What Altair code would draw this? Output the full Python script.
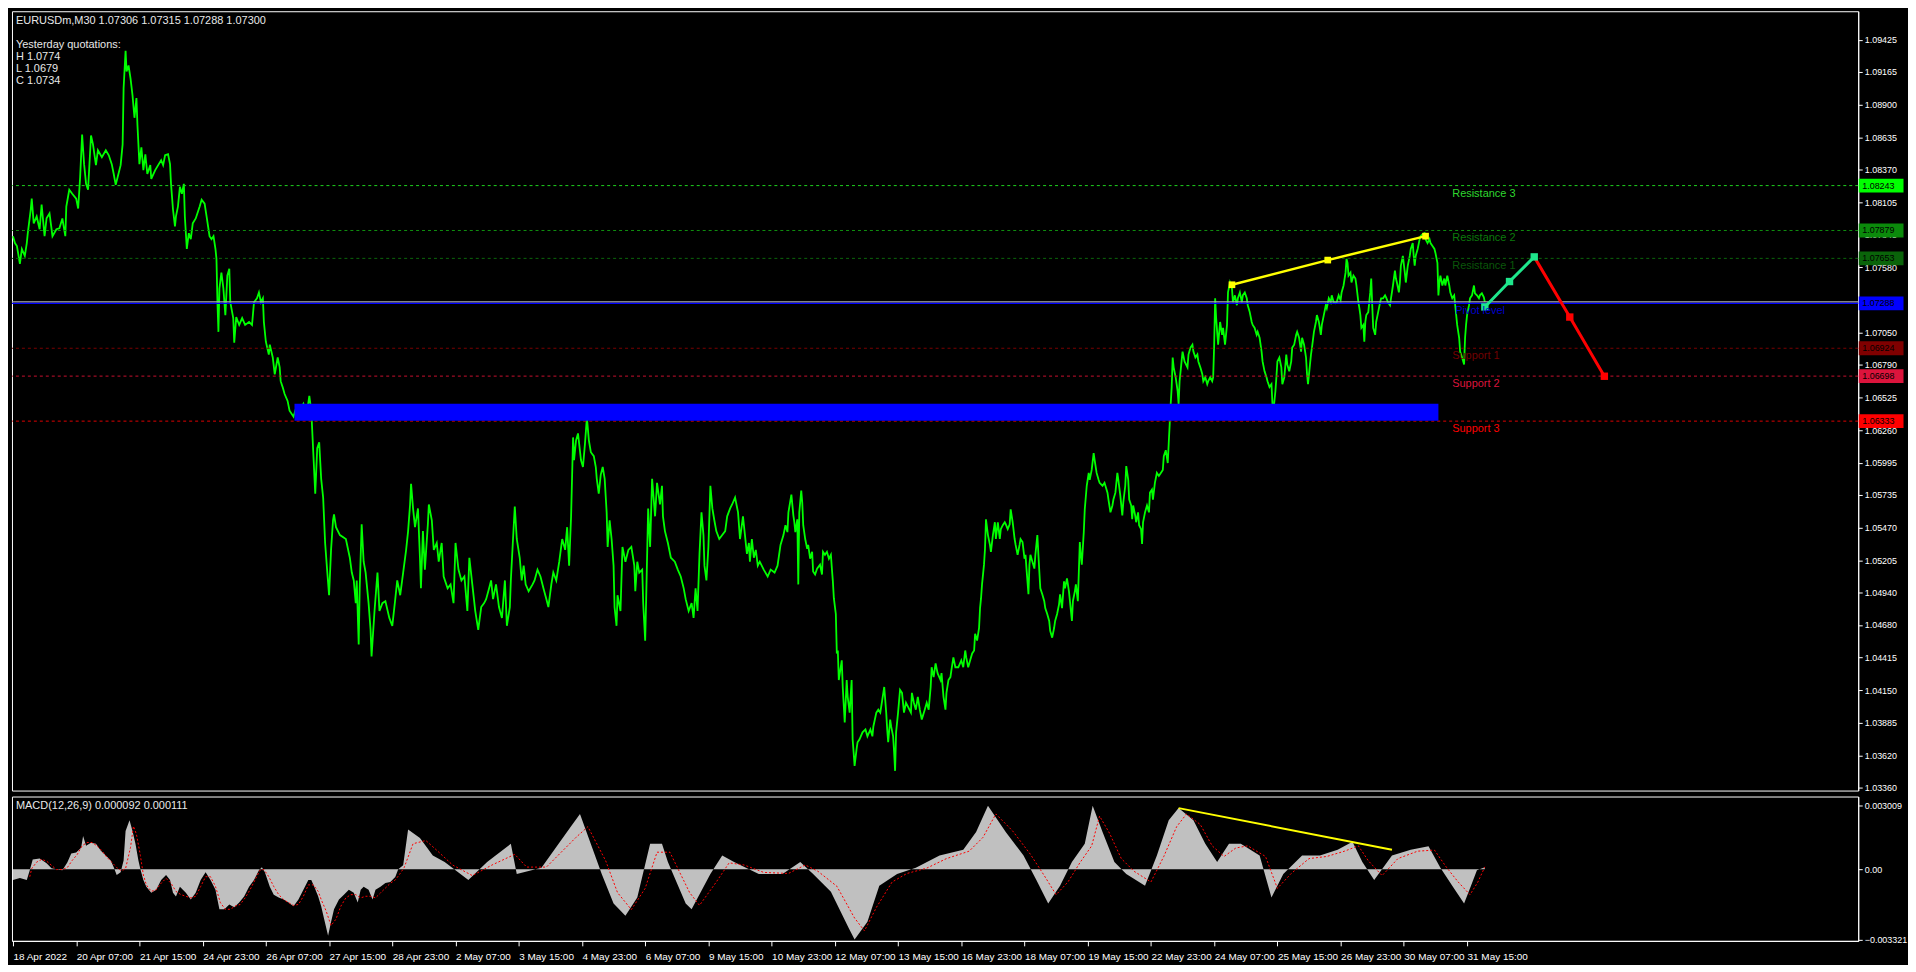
import altair as alt
import pandas as pd

# ---------------- data ----------------
price_bars = [0,2,4,7,9,12,14,15,18,19,21,24,27,29,32,34,37,40,44,47,50,53,54,57,60,64,66,68,70,72,74,76,79,81,84,86,90,94,97,100,102,104,106,109,111,112,114,115,117,119,121,123,125,126,128,130,132,134,136,139,140,144,147,150,152,154,157,159,160,162,164,165,167,169,171,173,174,176,178,180,182,185,189,191,194,196,199,201,203,205,206,207,208,209,211,213,215,217,219,220,223,224,226,229,232,235,239,242,244,247,249,251,253,254,256,259,260,263,265,268,270,271,273,275,278,280,284,287,290,294,297,300,302,
304,306,308,310,312,314,316,318,320,322,324,325,327,331,337,341,343,345,347,348,350,351,353,355,357,360,362,363,366,369,371,374,377,381,384,387,389,392,395,398,400,402,403,405,407,410,412,413,415,417,420,421,424,426,429,431,434,436,440,443,446,448,451,454,457,460,462,465,468,471,474,477,479,482,484,486,489,492,495,498,500,503,504,506,508,510,513,515,517,519,522,526,528,531,534,537,540,542,545,547,550,553,556,559,561,563,565,567,568,570,572,575,577,579,581,583,585,588,590,591,593,595,597,599,601,602,604,606,608,609,611,612,615,617,620,623,626,629,630,632,634,637,638,640,641,643,645,647,650,652,655,657,658,660,663,666,670,673,676,679,681,684,687,689,691,693,695,697,699,700,702,704,706,708,710,712,715,718,721,723,726,728,731,734,736,739,741,743,745,746,748,750,752,754,756,760,764,767,771,774,
777,780,782,784,785,788,790,791,792,794,795,796,798,799,800,802,804,805,807,809,810,812,814,817,819,820,822,824,826,828,829,830,831,833,834,835,836,839,840,842,844,845,847,849,850,851,852,854,855,857,860,863,865,868,870,871,874,876,878,880,882,884,885,886,888,889,891,892,893,894,896,898,900,902,904,906,909,910,912,914,916,918,920,923,925,927,929,930,932,934,936,939,940,942,944,945,947,949,950,952,954,957,960,962,964,965,967,969,971,973,974,976,978,979,980,981,983,984,985,987,989,990,992,994,995,997,999,1000,1002,1004,1005,1007,1009,1010,1012,1014,1015,1017,1019,1020,1022,1024,1025,1026,1028,1029,1030,1032,1034,1035,1037,1039,1040,1042,1044,1045,1047,1049,1050,1052,1054,1055,1057,1059,1060,1062,1064,1065,1067,1069,1070,1072,1073,1075,1076,1078,1080,1081,1082,1084,1085,1087,1089,1090,1092,1094,1095,1097,1099,1100,1103,1105,1108,1109,1111,1113,1114,1116,1118,1119,1121,1123,1124,1126,1127,1129,1130,1132,1133,1134,1136,1137,1139,1140,1142,1143,1144,1146,1148,1150,1151,1153,1154,1156,1158,1160,1162,1164,1165,1167,1169,1170,1171,
1172,1173,1174,1175,1177,1179,1180,1181,1183,1184,1186,1189,1190,1192,1194,1195,1197,1199,1200,1202,1204,1205,1207,1209,1210,1212,1214,1215,1216,1217,1218,1219,1220,1222,1224,1225,1227,1229,1230,1232,1234,1235,1237,1239,1240,1242,1244,1245,1247,1249,1250,1252,1254,1255,1257,1259,1260,1262,1264,1265,1267,1269,1270,1272,1274,1275,1276,1278,1279,1280,1282,1284,1285,1287,1289,1290,1292,1294,1295,1297,1299,1300,1302,1304,1305,1307,1309,1310,1311,1313,1314,1315,1317,1319,1320,1322,1324,1325,1327,1329,1330,1332,1334,1335,1337,1339,1340,1342,1344,1345,1347,1349,1350,1351,1352,1354,1355,1357,1359,1360,1362,1363,1364,1365,1367,1368,1369,1370,1372,1374,1375,1376,1377,1379,1380,1382,1384,1385,1387,1389,1390,1392,1394,1395,1397,1399,1400,1401,1403,1404,1405,1407,1409,1410,1412,1414,1415,1417,1418,1419,1420,1422,1424,1425,1427,1429,1430,1432,1434,1435,1437,1439,1440,1442,1443,1444,1445,1447,1449,1450,1452,1454,1455,1457,1459,1460,1462,1464,1465,1467,1469,1470,1471,1472,1474,1475,1477,1479,1480,1482,1484,1485,1487,1489,1490]

price_close = [1.07833,1.07777,1.07753,1.07609,1.07729,1.07673,1.07777,1.07857,1.08049,1.08137,1.07937,1.07993,1.07889,1.08089,1.07833,1.07977,1.08017,1.07833,1.07889,1.07897,1.07977,1.07833,1.08073,1.08209,1.08177,1.08137,1.08057,1.08313,1.08657,1.08417,1.08257,1.08209,1.08649,1.08577,1.08409,1.08529,1.08473,1.08529,1.08489,1.08417,1.08337,1.08249,1.08313,1.08409,1.08577,1.09033,1.09337,1.09169,1.09217,1.09113,1.08977,1.08793,1.08953,1.08737,1.08417,1.08553,1.08369,1.08497,1.08337,1.08409,1.08297,1.08369,1.08409,1.08449,1.08409,1.08489,1.08497,1.08417,1.08257,1.08049,1.07913,1.07993,1.08073,1.08233,1.08177,1.08257,1.07993,1.07729,1.07857,1.07809,1.07937,1.07977,1.08073,1.08129,1.08097,1.07993,1.07833,1.07809,1.07833,1.07729,1.07649,1.07297,1.07057,1.07409,1.07537,1.07409,1.07193,1.07513,1.07569,1.07297,1.07169,1.06969,1.07177,1.07113,1.07169,1.07113,1.07137,1.07113,1.07297,1.07329,1.07377,1.07297,1.07329,1.07137,1.06977,1.06873,1.06953,1.06849,1.06713,1.06849,1.06769,1.06657,1.06609,1.06553,1.06497,1.06417,1.06369,1.06449,1.06417,1.06473,1.06369,1.06537,1.06417,
1.06081,1.05745,1.06113,1.06161,1.05865,1.05713,1.05345,1.05129,1.04921,1.05289,1.05529,1.05577,1.05473,1.05409,1.05377,1.05225,1.05105,1.05041,1.04857,1.05041,1.04521,1.04977,1.05497,1.05193,1.05105,1.04857,1.04641,1.04425,1.04793,1.05105,1.04793,1.04857,1.04873,1.04737,1.04673,1.04889,1.05041,1.04921,1.05105,1.05289,1.05441,1.05657,1.05825,1.05625,1.05473,1.05625,1.05225,1.04977,1.05441,1.05129,1.05497,1.05657,1.05529,1.05289,1.05345,1.05193,1.05345,1.05073,1.04977,1.05009,1.04857,1.05345,1.05129,1.05041,1.05073,1.04793,1.05225,1.05009,1.04793,1.04641,1.04825,1.04857,1.04889,1.04977,1.05041,1.04889,1.05009,1.04825,1.04737,1.05041,1.04673,1.04825,1.05041,1.05345,1.05641,1.05377,1.05225,1.05041,1.05161,1.05009,1.04953,1.05009,1.05041,1.05129,1.05073,1.04977,1.04889,1.04825,1.05009,1.05105,1.05041,1.05193,1.05377,1.05289,1.05473,1.05161,1.05561,1.06201,1.06017,1.06177,1.06233,1.06017,1.05961,1.06145,1.06361,1.06177,1.06081,1.06049,1.05961,1.05865,1.05745,1.05897,1.05961,1.05865,1.05593,1.05313,1.05529,1.05377,1.05161,1.04825,1.04673,1.04921,1.04793,1.05313,1.05193,1.05289,1.05313,1.05161,1.04953,1.05193,1.05105,1.05129,1.04857,1.04553,1.04889,1.05625,1.05313,1.05865,1.05561,1.05833,1.05657,1.05809,1.05561,1.05441,1.05345,1.05225,1.05193,1.05129,1.05073,1.04977,1.04889,1.04793,1.04857,1.04737,1.04977,1.04793,1.05257,1.05593,1.05409,1.05161,1.05041,1.05313,1.05809,1.05625,1.05529,1.05441,1.05377,1.05409,1.05441,1.05561,1.05625,1.05657,1.05713,1.05593,1.05377,1.05561,1.05409,1.05257,1.05345,1.05193,1.05377,1.05225,1.05289,1.05161,1.05193,1.05129,1.05073,1.05129,1.05105,1.05161,
1.05329,1.05409,1.05489,1.05433,1.05593,1.05737,1.05569,1.05513,1.05433,1.05537,1.05009,1.05593,1.05769,1.05673,1.05489,1.05377,1.05297,1.05329,1.05217,1.05273,1.05113,1.05089,1.05137,1.05169,1.05089,1.05273,1.05249,1.05273,1.05217,1.05249,1.05137,1.05033,1.04897,1.04769,1.04449,1.04473,1.04233,1.04393,1.04177,1.03889,1.04233,1.04097,1.03969,1.04233,1.03753,1.03649,1.03537,1.03673,1.03729,1.03753,1.03809,1.03833,1.03777,1.03833,1.03777,1.03857,1.03969,1.03993,1.03969,1.04073,1.04177,1.03969,1.03833,1.03729,1.03913,1.03857,1.03777,1.03649,1.03497,1.03809,1.03969,1.04153,1.04129,1.03969,1.04049,1.04017,1.03969,1.04129,1.04049,1.03993,1.04097,1.03993,1.03913,1.03993,1.04049,1.03993,1.04177,1.04337,1.04257,1.04369,1.04289,1.04233,1.04289,1.04097,1.03993,1.04129,1.04233,1.04257,1.04313,1.04417,1.04337,1.04337,1.04393,1.04337,1.04473,1.04417,1.04337,1.04393,1.04449,1.04473,1.04609,1.04553,1.04657,1.04817,1.04897,1.05009,1.05169,1.05297,1.05537,1.05409,1.05329,1.05273,1.05409,1.05513,1.05377,1.05513,1.05377,1.05457,1.05489,1.05513,1.05497,1.05457,1.05497,1.05617,1.05513,1.05377,1.05329,1.05249,1.05329,1.05377,1.05353,1.05217,1.05249,1.05137,1.04929,1.05169,1.05249,1.05193,1.05137,1.05249,1.05409,1.05113,1.04977,1.04929,1.04873,1.04817,1.04769,1.04713,1.04633,1.04577,1.04657,1.04713,1.04769,1.04849,1.04929,1.04817,1.05033,1.04977,1.05057,1.04953,1.04873,1.04713,1.04873,1.04953,1.05009,1.04873,1.05353,1.05249,1.05169,1.05433,1.05617,1.05809,1.05913,1.05857,1.05937,1.06073,1.06017,1.05913,1.05857,1.05833,1.05809,1.05833,1.05753,1.05697,1.05593,1.05649,1.05697,1.05753,1.05913,1.05857,1.05729,1.05569,1.05673,1.05809,1.05969,1.05857,1.05697,1.05649,1.05537,1.05649,1.05569,1.05513,1.05593,1.05489,1.05457,1.05337,1.05513,1.05593,1.05649,1.05593,1.05753,1.05777,1.05697,1.05833,1.05913,1.05889,1.05913,1.05937,1.06049,1.06097,1.05993,1.06153,1.06313,
1.06473,1.06609,1.06849,1.06769,1.06689,1.06577,1.06473,1.06657,1.06817,1.06897,1.06817,1.06769,1.06873,1.06929,1.06953,1.06897,1.06849,1.06873,1.06817,1.06769,1.06713,1.06657,1.06689,1.06633,1.06657,1.06689,1.06657,1.06689,1.06953,1.07329,1.07169,1.07057,1.06953,1.07137,1.07033,1.07089,1.06953,1.07113,1.07377,1.07457,1.07409,1.07297,1.07353,1.07273,1.07329,1.07377,1.07297,1.07353,1.07377,1.07329,1.07273,1.07217,1.07137,1.07113,1.07089,1.07033,1.07057,1.07009,1.06897,1.06817,1.06737,1.06689,1.06657,1.06609,1.06633,1.06473,1.06417,1.06577,1.06689,1.06817,1.06849,1.06769,1.06633,1.06689,1.06873,1.06793,1.06737,1.06817,1.06929,1.06953,1.07033,1.07057,1.07009,1.06897,1.07009,1.06953,1.06849,1.06713,1.06633,1.06793,1.06873,1.06929,1.07057,1.07137,1.07193,1.07137,1.07033,1.07113,1.07193,1.07273,1.07249,1.07329,1.07297,1.07353,1.07297,1.07289,1.07297,1.07353,1.07313,1.07377,1.07433,1.07537,1.07649,1.07617,1.07513,1.07537,1.07457,1.07513,1.07489,1.07433,1.07297,1.07249,1.07193,1.07089,1.07113,1.06977,1.07137,1.07193,1.07217,1.07377,1.07489,1.07273,1.07089,1.07033,1.07137,1.07217,1.07297,1.07329,1.07329,1.07353,1.07337,1.07297,1.07273,1.07329,1.07433,1.07553,1.07489,1.07457,1.07377,1.07457,1.07593,1.07673,1.07537,1.07457,1.07593,1.07673,1.07729,1.07777,1.07673,1.07593,1.07673,1.07729,1.07809,1.07833,1.07849,1.07857,1.07809,1.07777,1.07809,1.07777,1.07753,1.07729,1.07697,1.07617,1.07353,1.07457,1.07513,1.07433,1.07489,1.07433,1.07513,1.07433,1.07377,1.07329,1.07353,1.07273,1.07113,1.07009,1.06897,1.06849,1.06793,1.07009,1.07113,1.07193,1.07273,1.07329,1.07353,1.07433,1.07369,1.07353,1.07329,1.07353,1.07369,1.07337,1.07300]

# pivot levels
level_names = ["Resistance 3", "Resistance 2", "Resistance 1", "Support 1", "Support 2", "Support 3"]
level_prices = [1.08243, 1.07879, 1.07653, 1.06924, 1.06698, 1.06333]
level_line_colors = ["#1ED21E", "#0F8F0F", "#0B660B", "#7A0000", "#C8102E", "#E00000"]
level_text_colors = ["#2FD82F", "#0C7A0C", "#0A560A", "#700000", "#DC143C", "#FF0000"]
level_box_colors = ["#00FF00", "#0B8A0B", "#0A640A", "#800000", "#DC143C", "#FF0000"]
pivot_price = 1.07288
bid_price = 1.07300

# support/resistance zone (blue box)
zone_bars = [285, 1443]
zone_prices = [1.06473, 1.06337]

# price trend line (yellow)
trend_bars = [1234, 1331, 1430]
trend_prices = [1.07439, 1.07639, 1.07833]

# forecast path
fc_up_bars = [1490, 1515, 1540]
fc_up_prices = [1.07259, 1.07465, 1.07665]
fc_dn_bars = [1540, 1576, 1611]
fc_dn_prices = [1.07665, 1.07177, 1.06697]

# price axis ticks
price_ticks = [1.09425, 1.09165, 1.08900, 1.08635, 1.08370, 1.08105, 1.07845, 1.07580, 1.07315,
               1.07050, 1.06790, 1.06525, 1.06260, 1.05995, 1.05735, 1.05470, 1.05205, 1.04940,
               1.04680, 1.04415, 1.04150, 1.03885, 1.03620, 1.03360]

# time axis
x_tick_bars = [0, 64, 128, 192, 256, 320, 384, 448, 512, 576, 640, 704, 768, 832, 896, 960,
               1024, 1088, 1152, 1216, 1280, 1344, 1408, 1472]
x_tick_labels = ["18 Apr 2022", "20 Apr 07:00", "21 Apr 15:00", "24 Apr 23:00", "26 Apr 07:00",
                 "27 Apr 15:00", "28 Apr 23:00", "2 May 07:00", "3 May 15:00", "4 May 23:00",
                 "6 May 07:00", "9 May 15:00", "10 May 23:00", "12 May 07:00", "13 May 15:00",
                 "16 May 23:00", "18 May 07:00", "19 May 15:00", "22 May 23:00", "24 May 07:00",
                 "25 May 15:00", "26 May 23:00", "30 May 07:00", "31 May 15:00"]

# MACD histogram
macd_bars = [0,7,14,17,20,27,34,39,44,50,55,59,64,69,71,74,79,84,89,94,99,102,105,109,112,114,118,121,124,127,129,132,135,140,145,150,155,159,162,165,169,172,175,180,185,190,195,200,205,209,214,219,224,229,234,239,244,249,252,255,260,264,269,274,279,284,289,294,299,302,305,309,312,315,319,322,325,330,335,340,345,349,352,355,360,364,367,372,377,382,387,390,395,
             400,412,425,437,461,480,504,510,535,565,574,596,608,620,632,645,657,663,681,687,706,718,730,755,779,797,810,828,846,852,865,877,895,914,938,962,975,987,1005,1023,1036,1048,1060,1072,1085,1093,1103,1115,1127,1146,1158,1170,1180,1195,1207,1219,1231,1243,1262,1274,1286,1305,1323,1341,1356,1366,1378,1396,1415,1433,1445,1457,1469,1476,1482,1490]
macd_values = [-0.000506,-0.000414,-0.000506,-0.000046,0.000460,0.000506,0.000276,0.000046,0.0,-0.000046,0.000322,0.000736,0.000782,0.001012,0.001564,0.001104,0.001242,0.001196,0.000874,0.000644,0.000414,0.000092,-0.000276,-0.000138,0.000414,0.001794,0.002300,0.001794,0.001196,0.000414,0.0,-0.000506,-0.000828,-0.001104,-0.000966,-0.000506,-0.000276,-0.000506,-0.001104,-0.001288,-0.000828,-0.000966,-0.001104,-0.001426,-0.001104,-0.000506,-0.000138,-0.000506,-0.000966,-0.001886,-0.001886,-0.001656,-0.001794,-0.001564,-0.001288,-0.000828,-0.000506,-0.000046,0.000092,-0.000138,-0.000828,-0.001196,-0.001334,-0.001426,-0.001564,-0.001748,-0.001426,-0.000966,-0.000506,-0.000506,-0.000828,-0.001288,-0.001748,-0.002346,-0.003128,-0.002484,-0.001886,-0.001426,-0.001196,-0.000966,-0.001104,-0.001564,-0.000966,-0.000828,-0.000966,-0.001426,-0.000966,-0.000828,-0.000644,-0.000598,-0.000368,0.0,0.000184,
               0.001863,0.001472,0.000644,0.000345,-0.000506,0.000345,0.001196,-0.000230,0.000064,0.002024,0.002594,-0.000230,-0.001610,-0.002185,-0.001334,0.001196,0.001196,0.000345,-0.001610,-0.001886,-0.000230,0.000644,0.000345,-0.000230,-0.000230,0.000345,-0.000230,-0.001058,-0.002760,-0.003312,-0.002466,-0.000782,-0.000230,0.000064,0.000644,0.000920,0.001748,0.002990,0.001748,0.000644,-0.000506,-0.001610,-0.000782,0.000345,0.001196,0.002990,0.001748,0.000345,-0.000230,-0.000782,0.000644,0.002300,0.002875,0.002300,0.001196,0.000345,0.001196,0.001196,0.000644,-0.001334,-0.000230,0.000644,0.000644,0.000920,0.001288,0.000345,-0.000506,0.000644,0.000920,0.001076,0.000064,-0.000782,-0.001610,-0.000782,-0.000046,0.000092]

# MACD signal line
signal_bars = [17,19,24,29,34,39,44,50,55,60,65,70,75,80,85,90,95,100,105,110,114,119,122,125,129,132,135,140,145,150,155,160,165,170,175,180,185,190,195,200,205,210,215,220,225,230,235,240,245,250,254,259,264,269,274,279,284,289,294,299,304,309,312,317,322,327,332,337,342,347,352,357,362,367,372,377,382,387,392,396,
               405,418,430,445,465,485,508,520,540,570,582,600,612,626,640,652,665,685,695,712,725,740,760,785,802,815,834,852,862,874,890,905,925,945,968,982,995,1012,1030,1044,1056,1068,1080,1092,1100,1110,1122,1135,1152,1165,1178,1188,1202,1214,1226,1238,1250,1268,1280,1294,1312,1330,1348,1362,1372,1386,1402,1422,1439,1451,1463,1475,1483,1490]
signal_values = [-0.000354,0.000031,0.000336,0.000460,0.000383,0.000184,-0.000015,-0.000015,0.000077,0.000414,0.000690,0.001104,0.001257,0.001257,0.001104,0.000874,0.000567,0.000336,0.000077,-0.000077,0.000031,0.001027,0.002024,0.001641,0.000644,-0.000276,-0.000736,-0.001043,-0.000966,-0.000659,-0.000429,-0.000659,-0.001043,-0.001196,-0.001273,-0.001349,-0.001273,-0.000813,-0.000353,-0.000353,-0.000813,-0.001579,-0.001886,-0.001886,-0.001733,-0.001656,-0.001349,-0.000966,-0.000506,-0.000046,-0.000015,-0.000353,-0.000813,-0.001196,-0.001426,-0.001579,-0.001702,-0.001656,-0.001273,-0.000736,-0.000736,-0.001043,-0.001426,-0.001962,-0.002652,-0.002346,-0.001733,-0.001349,-0.001196,-0.001196,-0.001349,-0.001273,-0.001273,-0.001349,-0.001119,-0.000889,-0.000659,-0.000506,-0.000199,0.000077,
                 0.00120,0.00135,0.00085,0.00020,-0.00030,0.00020,0.00070,0.00010,0.00010,0.00150,0.00200,0.00040,-0.00110,-0.00190,-0.00090,0.00080,0.00080,-0.00110,-0.00170,-0.00060,0.00030,0.00020,-0.00015,-0.00020,0.00020,-0.00010,-0.00080,-0.00230,-0.00290,-0.00180,-0.00060,-0.00020,0.00005,0.00050,0.00085,0.00150,0.00260,0.00180,0.00070,-0.00030,-0.00120,-0.00060,0.00030,0.00110,0.00250,0.00170,0.00050,-0.00010,-0.00060,0.00060,0.00200,0.00260,0.00210,0.00110,0.00060,0.00100,0.00110,0.00060,-0.00090,-0.00020,0.00050,0.00060,0.00085,0.00110,0.00040,-0.00030,0.00050,0.00085,0.00090,0.00010,-0.00060,-0.00120,-0.00060,0.000111]

# MACD trend line
macd_trend_bars = [1180, 1396]
macd_trend_values = [0.002875, 0.000920]

macd_ticks = [0.003009, 0.0, -0.003321]

header_text = "EURUSDm,M30  1.07306 1.07315 1.07288 1.07300"
info_lines = ["Yesterday quotations:", "H 1.0774", "L 1.0679", "C 1.0734"]
macd_title = "MACD(12,26,9) 0.000092 0.000111"

# ---------------- layout ----------------
W = 1855
H_MAIN = 783
H_MACD = 145
FONT = "Liberation Sans"

xscale = alt.Scale(domain=[-1, 1868], nice=False, zero=False)
yscale = alt.Scale(domain=[1.03337, 1.09657], nice=False, zero=False)
mscale = alt.Scale(domain=[-0.00337, 0.00342], nice=False, zero=False)

price_df = pd.DataFrame({"bar": price_bars, "price": price_close})
levels_df = pd.DataFrame({
    "name": level_names, "price": level_prices, "line": level_line_colors,
    "tcolor": level_text_colors, "box": level_box_colors,
})
boxes_df = pd.DataFrame({
    "price": level_prices + [pivot_price],
    "box": level_box_colors + ["#0000FF"],
    "label": [f"{p:.5f}" for p in level_prices + [pivot_price]],
})
zone_df = pd.DataFrame({"x0": [zone_bars[0]], "x1": [zone_bars[1]],
                        "top": [zone_prices[0]], "bottom": [zone_prices[1]]})
trend_df = pd.DataFrame({"bar": trend_bars, "price": trend_prices})
fc_up_df = pd.DataFrame({"bar": fc_up_bars, "price": fc_up_prices})
fc_dn_df = pd.DataFrame({"bar": fc_dn_bars, "price": fc_dn_prices})
hl_df = pd.DataFrame({"price": [bid_price, pivot_price], "c": ["#B0B0B0", "#0000FF"]})

price_axis = alt.Axis(orient="right", values=price_ticks, format=".5f", labelColor="white",
                      tickColor="white", domainColor="white", labelFont=FONT, labelFontSize=9,
                      tickSize=4, labelPadding=2, grid=False, title=None, labelOverlap=False,
                      labelBound=False, labelFlush=False)

X = alt.X("bar:Q", scale=xscale, axis=None)


def PY(field="price"):
    return alt.Y(f"{field}:Q", scale=yscale, axis=price_axis)


price_line = alt.Chart(price_df).mark_line(color="#00FF00", strokeWidth=1.8).encode(x=X, y=PY())

level_rules = alt.Chart(levels_df).mark_rule(strokeDash=[3, 3], strokeWidth=1).encode(
    y=PY(), color=alt.Color("line:N", scale=None))

hl_rules = alt.Chart(hl_df).mark_rule(strokeWidth=1.2).encode(
    y=PY(), color=alt.Color("c:N", scale=None))

zone = alt.Chart(zone_df).mark_rect(color="#0000FF").encode(
    x=alt.X("x0:Q", scale=xscale, axis=None), x2="x1:Q", y=PY("top"), y2="bottom:Q")

trend_line = alt.Chart(trend_df).mark_line(color="#FFFF00", strokeWidth=2.5).encode(x=X, y=PY())
trend_pts = alt.Chart(trend_df).mark_point(shape="square", filled=True, size=45, color="#FFFF00", opacity=1).encode(x=X, y=PY())

fc_up_line = alt.Chart(fc_up_df).mark_line(color="#1EE68C", strokeWidth=3).encode(x=X, y=PY())
fc_up_pts = alt.Chart(fc_up_df).mark_point(shape="square", filled=True, size=55, color="#1EE68C", opacity=1).encode(x=X, y=PY())
fc_dn_line = alt.Chart(fc_dn_df).mark_line(color="#FF0000", strokeWidth=3).encode(x=X, y=PY())
fc_dn_pts = alt.Chart(fc_dn_df.iloc[1:]).mark_point(shape="square", filled=True, size=55, color="#FF0000", opacity=1).encode(x=X, y=PY())

level_text = alt.Chart(levels_df).mark_text(align="left", baseline="middle", dy=8, font=FONT, fontSize=11).encode(
    x=alt.datum(1457, scale=xscale), y=PY(), text="name:N", color=alt.Color("tcolor:N", scale=None))
pivot_text = alt.Chart(pd.DataFrame({"price": [pivot_price], "t": ["Pivot level"]})).mark_text(
    align="left", baseline="middle", dy=8, font=FONT, fontSize=11, color="#0000CC").encode(
    x=alt.datum(1460, scale=xscale), y=PY(), text="t:N")

boxes = alt.Chart(boxes_df).mark_tick(orient="horizontal", thickness=14, size=45, opacity=1).encode(
    x=alt.value(W + 23), y=PY(), color=alt.Color("box:N", scale=None))
box_text = alt.Chart(boxes_df).mark_text(align="left", baseline="middle", font=FONT, fontSize=9, color="#000000").encode(
    x=alt.value(W + 4), y=PY(), text="label:N")

header = alt.Chart(pd.DataFrame({"t": [header_text]})).mark_text(
    align="left", baseline="top", font=FONT, fontSize=11, color="#E8E8E8").encode(
    x=alt.value(4), y=alt.value(4), text="t:N")
info = alt.Chart(pd.DataFrame({"t": ["\n".join(info_lines)]})).mark_text(
    align="left", baseline="top", font=FONT, fontSize=11, color="#E8E8E8", lineBreak="\n", lineHeight=12).encode(
    x=alt.value(4), y=alt.value(28), text="t:N")

main = alt.layer(
    price_line, level_rules, zone, hl_rules, trend_line, trend_pts,
    fc_up_line, fc_dn_line, fc_up_pts, fc_dn_pts, level_text, pivot_text, boxes, box_text, header, info
).properties(width=W, height=H_MAIN)

# ---- MACD panel ----
label_expr = "[" + ",".join(f"'{l}'" for l in x_tick_labels) + "][round(datum.value/64)]"
x_axis = alt.Axis(orient="bottom", values=x_tick_bars, labelExpr=label_expr, labelAlign="left",
                  labelColor="white", tickColor="white", domainColor="white", labelFont=FONT,
                  labelFontSize=10, tickSize=5, labelPadding=6, grid=False, title=None,
                  labelOverlap=False, labelFlush=False, labelBound=False)
macd_axis = alt.Axis(orient="right", values=macd_ticks,
                     labelExpr="datum.value == 0 ? '0.00' : format(datum.value, '.6f')",
                     labelColor="white", tickColor="white", domainColor="white", labelFont=FONT,
                     labelFontSize=9, tickSize=4, labelPadding=2, grid=False, title=None,
                     labelOverlap=False, labelFlush=False, labelBound=False)

MX = alt.X("bar:Q", scale=xscale, axis=x_axis)
MY = alt.Y("v:Q", scale=mscale, axis=macd_axis)

macd_df = pd.DataFrame({"bar": macd_bars, "v": macd_values})
sig_df = pd.DataFrame({"bar": signal_bars, "v": signal_values})
mtrend_df = pd.DataFrame({"bar": macd_trend_bars, "v": macd_trend_values})

hist = alt.Chart(macd_df).mark_area(color="#C0C0C0", opacity=1).encode(x=MX, y=MY, y2=alt.datum(0))
sig = alt.Chart(sig_df).mark_line(color="#FF0000", strokeDash=[2, 2], strokeWidth=1).encode(x=MX, y=MY)
mtrend = alt.Chart(mtrend_df).mark_line(color="#FFFF00", strokeWidth=2).encode(x=MX, y=MY)
mtitle = alt.Chart(pd.DataFrame({"t": [macd_title]})).mark_text(
    align="left", baseline="top", font=FONT, fontSize=11, color="#E8E8E8").encode(
    x=alt.value(4), y=alt.value(4), text="t:N")

macd = alt.layer(hist, sig, mtrend, mtitle).properties(width=W, height=H_MACD)

chart = alt.vconcat(main, macd, spacing=2).properties(
    padding={"left": 0, "top": 0, "right": 0, "bottom": 0}
).configure(background="#000000").configure_view(stroke="#FFFFFF", strokeWidth=1)

chart.save("out.html", embed_options={"renderer": "svg", "actions": False})
